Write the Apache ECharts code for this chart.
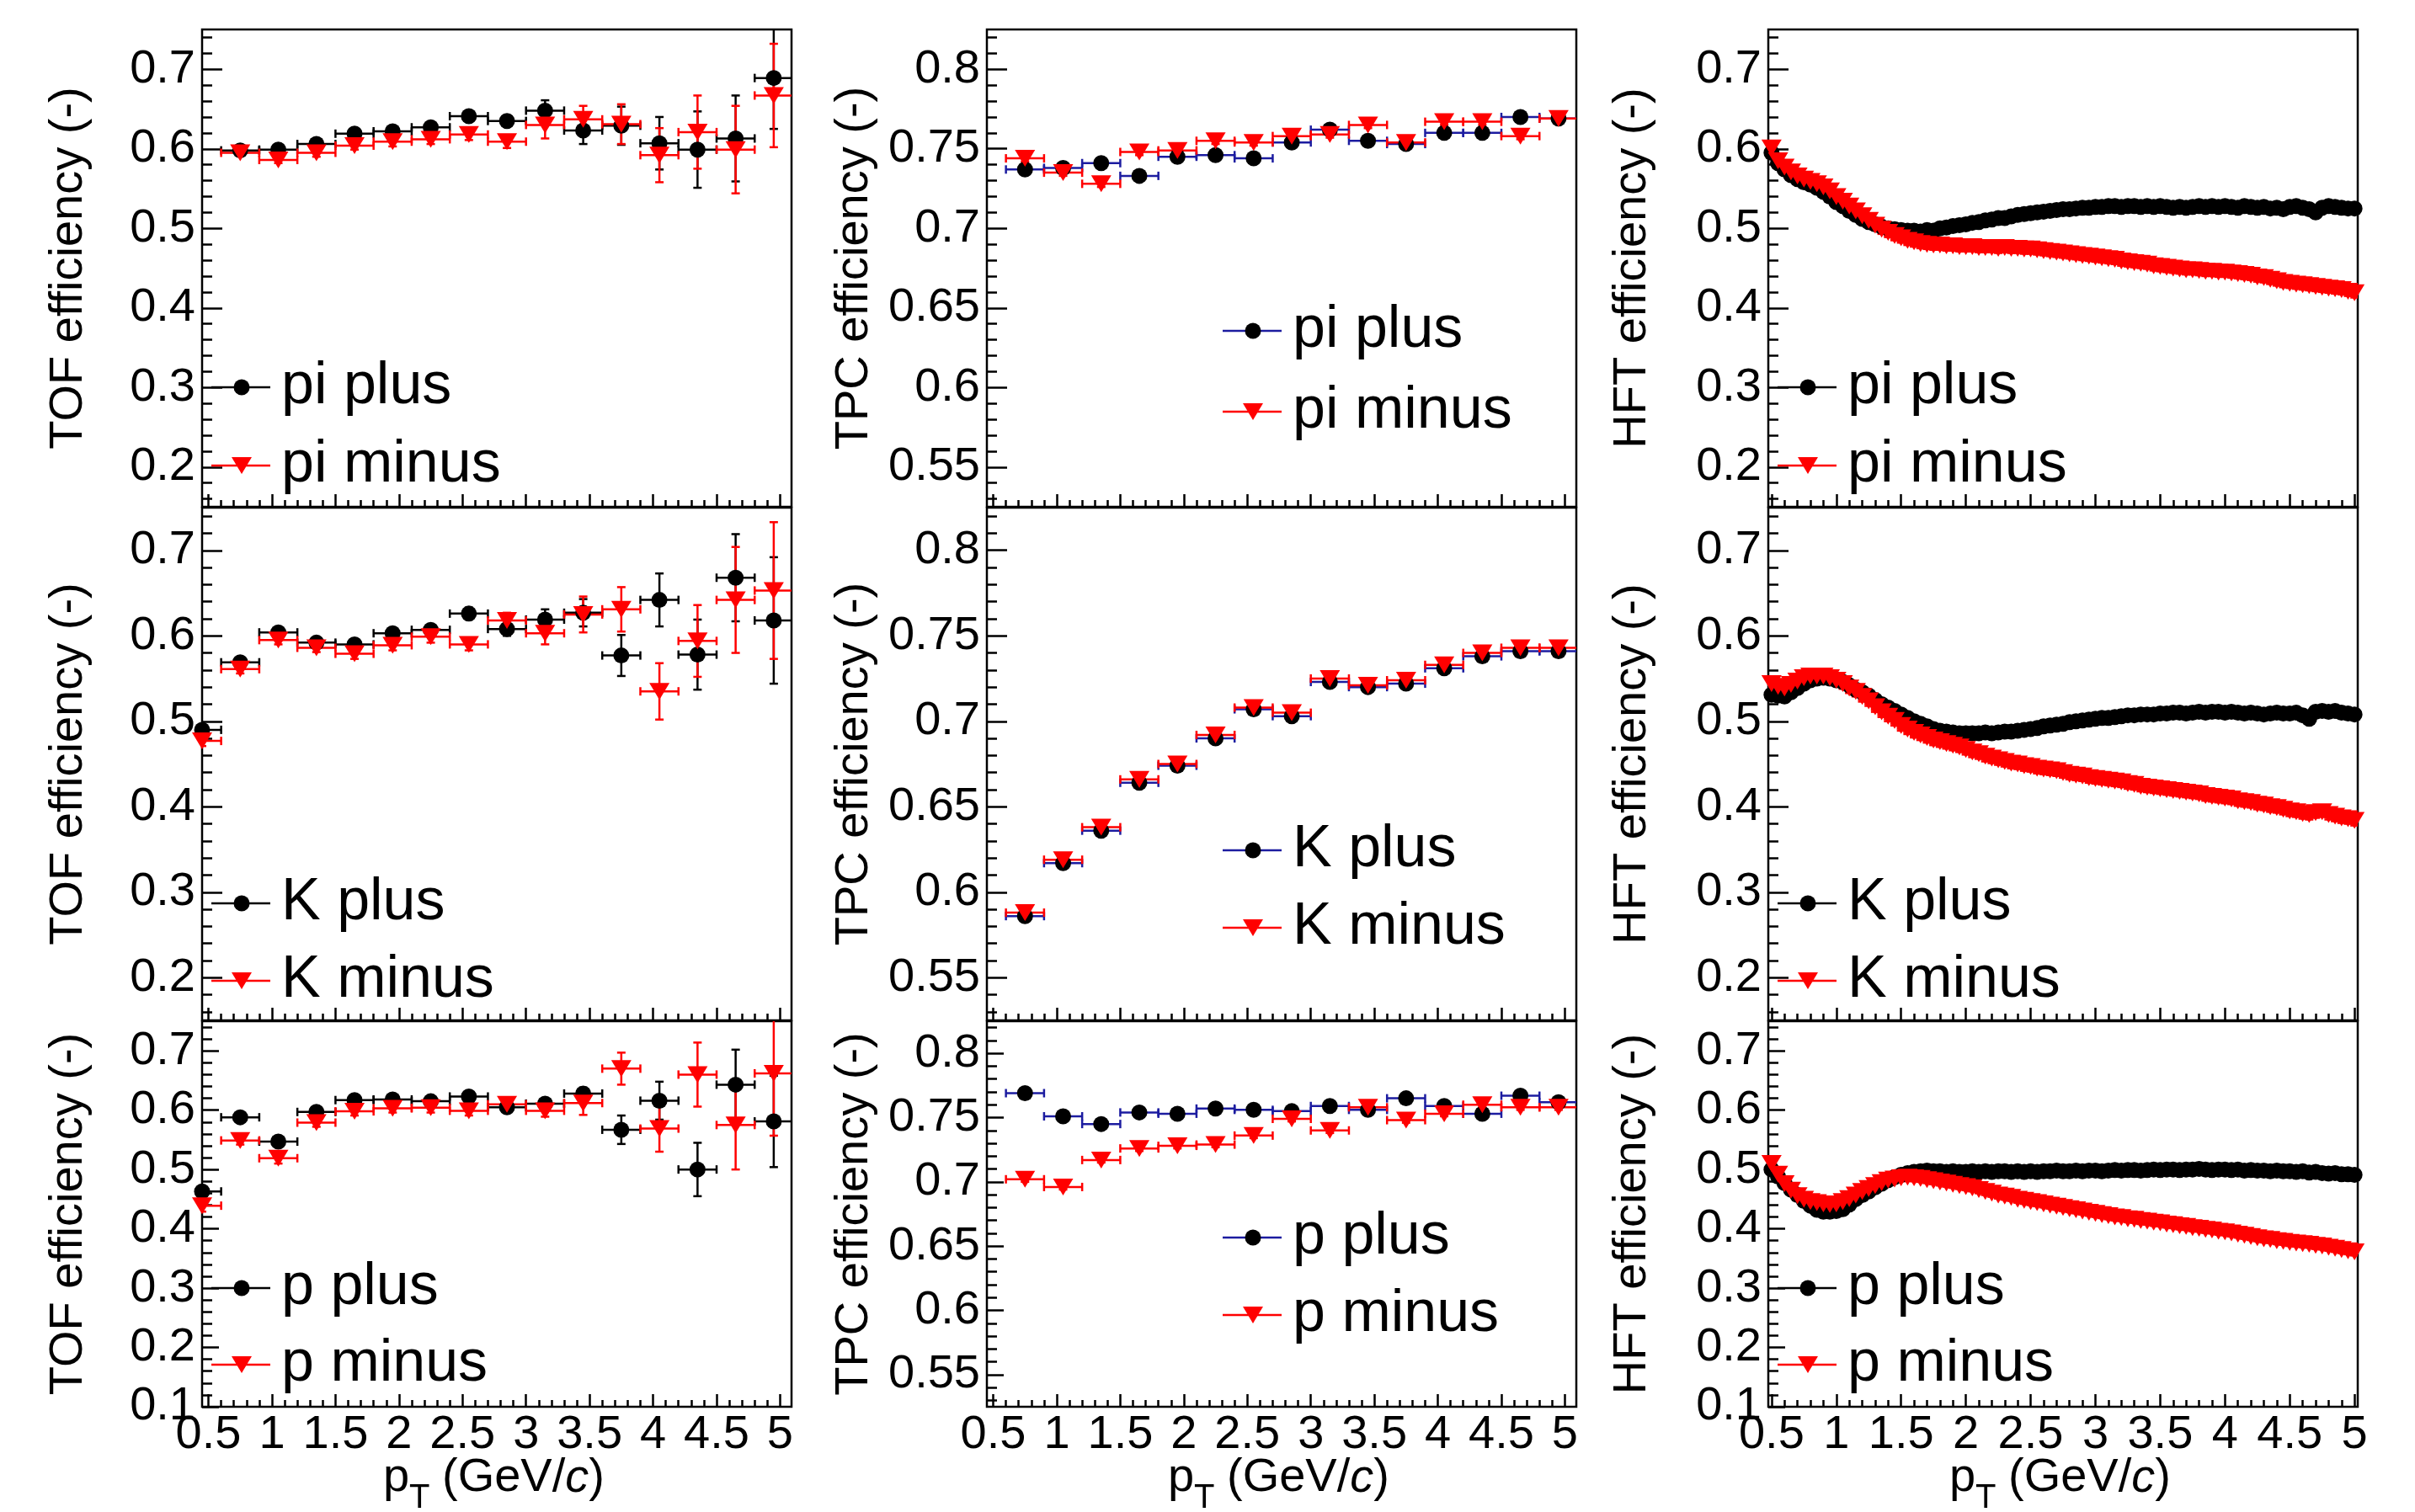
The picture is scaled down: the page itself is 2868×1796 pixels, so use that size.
<!DOCTYPE html>
<html>
<head>
<meta charset="utf-8">
<script src="https://cdn.jsdelivr.net/npm/echarts@6.0.0/dist/echarts.min.js"></script>
<style>
  html, body { margin: 0; padding: 0; background: #fff; }
  #chart { width: 2868px; height: 1796px; }
</style>
</head>
<body>
<div id="chart"></div>
<script>
// bin centres (GeV/c)
const ptTof = [0.75, 1.05, 1.35, 1.65, 1.95, 2.25, 2.55, 2.85, 3.15, 3.45, 3.75, 4.05, 4.35, 4.65, 4.95];
const ptTofLow = [0.45, 0.75, 1.05, 1.35, 1.65, 1.95, 2.25, 2.55, 2.85, 3.15, 3.45, 3.75, 4.05, 4.35, 4.65, 4.95];
const ptTpc = [0.75, 1.05, 1.35, 1.65, 1.95, 2.25, 2.55, 2.85, 3.15, 3.45, 3.75, 4.05, 4.35, 4.65, 4.95];
const ptHft = [0.5, 0.55, 0.6, 0.65, 0.7, 0.75, 0.8, 0.85, 0.9, 0.95,
    1.0, 1.05, 1.1, 1.15, 1.2, 1.25, 1.3, 1.35, 1.4, 1.45,
    1.5, 1.55, 1.6, 1.65, 1.7, 1.75, 1.8, 1.85, 1.9, 1.95,
    2.0, 2.05, 2.1, 2.15, 2.2, 2.25, 2.3, 2.35, 2.4, 2.45,
    2.5, 2.55, 2.6, 2.65, 2.7, 2.75, 2.8, 2.85, 2.9, 2.95,
    3.0, 3.05, 3.1, 3.15, 3.2, 3.25, 3.3, 3.35, 3.4, 3.45,
    3.5, 3.55, 3.6, 3.65, 3.7, 3.75, 3.8, 3.85, 3.9, 3.95,
    4.0, 4.05, 4.1, 4.15, 4.2, 4.25, 4.3, 4.35, 4.4, 4.45,
    4.5, 4.55, 4.6, 4.65, 4.7, 4.75, 4.8, 4.85, 4.9, 4.95, 5.0];

// TOF efficiency
const tofPiPlus = [0.598, 0.599, 0.606, 0.619, 0.622, 0.627, 0.641, 0.635, 0.648, 0.623, 0.629, 0.607, 0.599, 0.613, 0.689];
const tofPiPlusErr = [0.004, 0.004, 0.004, 0.005, 0.005, 0.006, 0.006, 0.007, 0.013, 0.017, 0.024, 0.033, 0.048, 0.054, 0.064];
const tofPiMinus = [0.595, 0.586, 0.595, 0.604, 0.609, 0.612, 0.618, 0.609, 0.630, 0.637, 0.631, 0.592, 0.621, 0.599, 0.667];
const tofPiMinusErr = [0.004, 0.004, 0.005, 0.005, 0.006, 0.006, 0.007, 0.008, 0.017, 0.017, 0.025, 0.034, 0.046, 0.055, 0.065];
const tofKPlus = [0.490, 0.569, 0.604, 0.592, 0.590, 0.603, 0.607, 0.626, 0.608, 0.619, 0.627, 0.577, 0.642, 0.578, 0.668, 0.618];
const tofKPlusErr = [0.005, 0.005, 0.005, 0.005, 0.005, 0.006, 0.006, 0.007, 0.008, 0.012, 0.016, 0.024, 0.031, 0.041, 0.051, 0.074];
const tofKMinus = [0.477, 0.561, 0.595, 0.586, 0.579, 0.589, 0.599, 0.590, 0.618, 0.603, 0.625, 0.631, 0.535, 0.594, 0.642, 0.653];
const tofKMinusErr = [0.006, 0.005, 0.005, 0.005, 0.006, 0.006, 0.007, 0.007, 0.009, 0.013, 0.021, 0.026, 0.033, 0.042, 0.062, 0.080];
const tofPPlus = [0.463, 0.588, 0.547, 0.597, 0.617, 0.618, 0.615, 0.623, 0.605, 0.611, 0.628, 0.567, 0.616, 0.500, 0.643, 0.581];
const tofPPlusErr = [0.008, 0.006, 0.008, 0.006, 0.006, 0.006, 0.006, 0.007, 0.007, 0.008, 0.010, 0.024, 0.032, 0.045, 0.059, 0.077];
const tofPMinus = [0.439, 0.549, 0.519, 0.579, 0.598, 0.603, 0.604, 0.599, 0.610, 0.599, 0.612, 0.670, 0.569, 0.660, 0.575, 0.662];
const tofPMinusErr = [0.010, 0.007, 0.009, 0.007, 0.007, 0.007, 0.008, 0.008, 0.009, 0.010, 0.020, 0.027, 0.039, 0.054, 0.075, 0.105];

// TPC efficiency
const tpcPiPlus = [0.737, 0.738, 0.741, 0.733, 0.745, 0.746, 0.744, 0.754, 0.762, 0.755, 0.753, 0.760, 0.760, 0.770, 0.769];
const tpcPiMinus = [0.744, 0.735, 0.728, 0.748, 0.749, 0.755, 0.754, 0.758, 0.759, 0.765, 0.754, 0.767, 0.767, 0.758, 0.769];
const tpcKPlus = [0.586, 0.617, 0.636, 0.664, 0.674, 0.690, 0.707, 0.703, 0.723, 0.720, 0.722, 0.731, 0.738, 0.741, 0.741];
const tpcKMinus = [0.588, 0.619, 0.638, 0.666, 0.675, 0.692, 0.708, 0.705, 0.725, 0.721, 0.724, 0.733, 0.740, 0.743, 0.743];
const tpcPPlus = [0.769, 0.751, 0.745, 0.754, 0.753, 0.757, 0.756, 0.755, 0.759, 0.756, 0.765, 0.759, 0.753, 0.767, 0.762];
const tpcPMinus = [0.702, 0.696, 0.717, 0.726, 0.728, 0.729, 0.736, 0.749, 0.740, 0.758, 0.748, 0.753, 0.760, 0.758, 0.758];

// HFT efficiency
const hftPiPlus = [0.595, 0.582, 0.574, 0.567, 0.562, 0.558, 0.555, 0.551, 0.546, 0.540,
    0.533, 0.528, 0.522, 0.517, 0.512, 0.508, 0.505, 0.502, 0.500, 0.499,
    0.498, 0.497, 0.497, 0.496, 0.498, 0.497, 0.500, 0.501, 0.503, 0.504,
    0.505, 0.507, 0.508, 0.510, 0.511, 0.513, 0.513, 0.515, 0.517, 0.518,
    0.519, 0.520, 0.521, 0.522, 0.523, 0.524, 0.524, 0.525, 0.526, 0.526,
    0.527, 0.527, 0.528, 0.528, 0.527, 0.528, 0.528, 0.527, 0.528, 0.527,
    0.528, 0.527, 0.526, 0.527, 0.526, 0.527, 0.528, 0.527, 0.528, 0.527,
    0.528, 0.527, 0.526, 0.528, 0.527, 0.526, 0.527, 0.525, 0.526, 0.524,
    0.527, 0.528, 0.526, 0.524, 0.520, 0.526, 0.528, 0.527, 0.526, 0.525, 0.525];
const hftPiMinus = [0.601, 0.585, 0.577, 0.571, 0.566, 0.562, 0.559, 0.556, 0.552, 0.547,
    0.540, 0.534, 0.528, 0.522, 0.516, 0.510, 0.504, 0.499, 0.495, 0.491,
    0.488, 0.485, 0.483, 0.481, 0.480, 0.479, 0.479, 0.478, 0.478, 0.477,
    0.477, 0.477, 0.476, 0.476, 0.476, 0.475, 0.476, 0.475, 0.475, 0.474,
    0.474, 0.473, 0.472, 0.471, 0.470, 0.469, 0.468, 0.467, 0.466, 0.465,
    0.464, 0.463, 0.462, 0.461, 0.459, 0.458, 0.457, 0.456, 0.455, 0.453,
    0.452, 0.451, 0.450, 0.449, 0.448, 0.448, 0.447, 0.446, 0.446, 0.445,
    0.445, 0.444, 0.443, 0.442, 0.441, 0.439, 0.438, 0.436, 0.434, 0.432,
    0.431, 0.430, 0.429, 0.428, 0.427, 0.426, 0.425, 0.424, 0.423, 0.421, 0.419];
const hftKPlus = [0.531, 0.530, 0.529, 0.534, 0.539, 0.544, 0.548, 0.550, 0.551, 0.550,
    0.548, 0.546, 0.542, 0.537, 0.534, 0.530, 0.525, 0.520, 0.516, 0.512,
    0.508, 0.504, 0.500, 0.497, 0.494, 0.491, 0.489, 0.488, 0.487, 0.486,
    0.486, 0.486, 0.486, 0.487, 0.486, 0.487, 0.488, 0.488, 0.489, 0.490,
    0.491, 0.492, 0.494, 0.495, 0.496, 0.497, 0.499, 0.500, 0.501, 0.502,
    0.503, 0.504, 0.504, 0.505, 0.506, 0.507, 0.507, 0.508, 0.508, 0.508,
    0.509, 0.509, 0.510, 0.510, 0.509, 0.510, 0.511, 0.510, 0.511, 0.511,
    0.510, 0.511, 0.510, 0.509, 0.510, 0.509, 0.508, 0.509, 0.510, 0.509,
    0.509, 0.510, 0.507, 0.503, 0.511, 0.512, 0.511, 0.512, 0.510, 0.509, 0.508];
const hftKMinus = [0.544, 0.541, 0.539, 0.543, 0.547, 0.551, 0.553, 0.553, 0.553, 0.551,
    0.548, 0.544, 0.539, 0.535, 0.529, 0.524, 0.517, 0.511, 0.506, 0.501,
    0.495, 0.491, 0.487, 0.484, 0.481, 0.478, 0.476, 0.474, 0.472, 0.470,
    0.467, 0.464, 0.462, 0.459, 0.457, 0.455, 0.453, 0.451, 0.450, 0.448,
    0.447, 0.445, 0.444, 0.443, 0.442, 0.440, 0.438, 0.437, 0.436, 0.434,
    0.433, 0.432, 0.431, 0.430, 0.429, 0.427, 0.426, 0.424, 0.423, 0.422,
    0.421, 0.420, 0.419, 0.418, 0.417, 0.416, 0.415, 0.413, 0.412, 0.411,
    0.410, 0.409, 0.407, 0.406, 0.405, 0.403, 0.402, 0.400, 0.399, 0.397,
    0.395, 0.394, 0.392, 0.391, 0.393, 0.394, 0.391, 0.389, 0.387, 0.386, 0.384];
const hftPPlus = [0.500, 0.488, 0.477, 0.466, 0.457, 0.447, 0.439, 0.432, 0.429, 0.429,
    0.430, 0.433, 0.441, 0.450, 0.457, 0.463, 0.470, 0.476, 0.482, 0.487,
    0.491, 0.494, 0.496, 0.497, 0.498, 0.497, 0.497, 0.496, 0.497, 0.496,
    0.496, 0.497, 0.496, 0.497, 0.496, 0.497, 0.497, 0.496, 0.497, 0.496,
    0.497, 0.496, 0.497, 0.497, 0.498, 0.497, 0.497, 0.498, 0.497, 0.498,
    0.498, 0.497, 0.498, 0.499, 0.498, 0.499, 0.499, 0.498, 0.499, 0.500,
    0.499, 0.500, 0.500, 0.499, 0.500, 0.500, 0.501, 0.500, 0.499, 0.500,
    0.500, 0.499, 0.500, 0.498, 0.499, 0.498, 0.498, 0.497, 0.498, 0.497,
    0.497, 0.496, 0.497, 0.495, 0.496, 0.494, 0.493, 0.494, 0.492, 0.492, 0.491];
const hftPMinus = [0.510, 0.492, 0.476, 0.465, 0.456, 0.450, 0.446, 0.444, 0.442, 0.441,
    0.442, 0.446, 0.451, 0.457, 0.463, 0.468, 0.473, 0.478, 0.482, 0.484,
    0.486, 0.487, 0.486, 0.485, 0.483, 0.481, 0.479, 0.477, 0.475, 0.473,
    0.471, 0.469, 0.466, 0.463, 0.460, 0.457, 0.455, 0.453, 0.450, 0.448,
    0.446, 0.444, 0.442, 0.440, 0.438, 0.436, 0.434, 0.432, 0.430, 0.428,
    0.426, 0.424, 0.422, 0.420, 0.419, 0.417, 0.416, 0.414, 0.413, 0.411,
    0.410, 0.408, 0.407, 0.405, 0.404, 0.402, 0.401, 0.399, 0.398, 0.396,
    0.395, 0.393, 0.391, 0.389, 0.387, 0.385, 0.383, 0.382, 0.380, 0.379,
    0.377, 0.376, 0.375, 0.374, 0.372, 0.371, 0.369, 0.367, 0.365, 0.363, 0.361];

// tick values
const xMajor = [0.5, 1, 1.5, 2, 2.5, 3, 3.5, 4, 4.5, 5];
const xMinor = [0.6, 0.7, 0.8, 0.9, 1.1, 1.2, 1.3, 1.4, 1.6, 1.7, 1.8, 1.9, 2.1, 2.2, 2.3, 2.4,
    2.6, 2.7, 2.8, 2.9, 3.1, 3.2, 3.3, 3.4, 3.6, 3.7, 3.8, 3.9, 4.1, 4.2, 4.3, 4.4, 4.6, 4.7, 4.8, 4.9];
const effMajor = [0.2, 0.3, 0.4, 0.5, 0.6, 0.7];
const effMajorLow = [0.1, 0.2, 0.3, 0.4, 0.5, 0.6, 0.7];
const effMinor = [0.12, 0.14, 0.16, 0.18, 0.22, 0.24, 0.26, 0.28, 0.32, 0.34, 0.36, 0.38, 0.42, 0.44, 0.46, 0.48,
    0.52, 0.54, 0.56, 0.58, 0.62, 0.64, 0.66, 0.68, 0.72, 0.74];
const tpcMajor = [0.55, 0.6, 0.65, 0.7, 0.75, 0.8];
const tpcMinor = [0.53, 0.54, 0.56, 0.57, 0.58, 0.59, 0.61, 0.62, 0.63, 0.64, 0.66, 0.67, 0.68, 0.69,
    0.71, 0.72, 0.73, 0.74, 0.76, 0.77, 0.78, 0.79, 0.81, 0.82];

const FONT = '"Liberation Sans", Arial, Helvetica, sans-serif';
const BLUE = '#1c1ca0';
const RED = '#ff0000';

// pad geometry
const colLeft = [240, 1172, 2100];
const colWidth = 700;
const rowBox = [{ top: 35, h: 567 }, { top: 603, h: 609 }, { top: 1213, h: 458 }];
const yTitleX = [82, 1015, 1939];
const legendY = [[460, 553], [1073, 1165], [1530, 1621]];
const legendYTpc = [[393, 489], [1010, 1102], [1470, 1562]];

const panels = [
    { row: 0, col: 0, det: 'TOF', sp: 'pi', x: ptTof, plus: tofPiPlus, plusErr: tofPiPlusErr, minus: tofPiMinus, minusErr: tofPiMinusErr, dx: 0.15 },
    { row: 0, col: 1, det: 'TPC', sp: 'pi', x: ptTpc, plus: tpcPiPlus, minus: tpcPiMinus, dx: 0.15, dy: 0.002 },
    { row: 0, col: 2, det: 'HFT', sp: 'pi', x: ptHft, plus: hftPiPlus, minus: hftPiMinus, dx: 0.025, dy: 0.006 },
    { row: 1, col: 0, det: 'TOF', sp: 'K', x: ptTofLow, plus: tofKPlus, plusErr: tofKPlusErr, minus: tofKMinus, minusErr: tofKMinusErr, dx: 0.15 },
    { row: 1, col: 1, det: 'TPC', sp: 'K', x: ptTpc, plus: tpcKPlus, minus: tpcKMinus, dx: 0.15, dy: 0.002 },
    { row: 1, col: 2, det: 'HFT', sp: 'K', x: ptHft, plus: hftKPlus, minus: hftKMinus, dx: 0.025, dy: 0.006 },
    { row: 2, col: 0, det: 'TOF', sp: 'p', x: ptTofLow, plus: tofPPlus, plusErr: tofPPlusErr, minus: tofPMinus, minusErr: tofPMinusErr, dx: 0.15 },
    { row: 2, col: 1, det: 'TPC', sp: 'p', x: ptTpc, plus: tpcPPlus, minus: tpcPMinus, dx: 0.15, dy: 0.002 },
    { row: 2, col: 2, det: 'HFT', sp: 'p', x: ptHft, plus: hftPPlus, minus: hftPMinus, dx: 0.025, dy: 0.006 }
];

// error bars with small end lines, like ROOT's "E1"
function errorBars(color) {
    return function (params, api) {
        const x = api.value(0), y = api.value(1), ex = api.value(2), ey = api.value(3);
        const l = api.coord([x - ex, y]);
        const r = api.coord([x + ex, y]);
        const t = api.coord([x, y + ey]);
        const b = api.coord([x, y - ey]);
        const cap = 5;
        const st = { stroke: color, lineWidth: 2.5 };
        const seg = (x1, y1, x2, y2) => ({ type: 'line', shape: { x1, y1, x2, y2 }, style: st });
        return {
            type: 'group',
            children: [
                seg(l[0], l[1], r[0], r[1]),
                seg(l[0], l[1] - cap, l[0], l[1] + cap),
                seg(r[0], r[1] - cap, r[0], r[1] + cap),
                seg(t[0], t[1], b[0], b[1]),
                seg(t[0] - cap, t[1], t[0] + cap, t[1]),
                seg(b[0] - cap, b[1], b[0] + cap, b[1])
            ]
        };
    };
}

const grids = [], xAxes = [], yAxes = [], series = [], graphics = [];

panels.forEach((p, i) => {
    const box = rowBox[p.row];
    const isTpc = p.det === 'TPC';
    const xMin = p.col === 2 ? 0.475 : 0.45;
    const xMax = p.col === 2 ? 5.025 : 5.09;
    const yMin = isTpc ? 0.525 : (p.row === 2 ? 0.1 : 0.15);
    const yMax = isTpc ? 0.825 : 0.75;
    const yLabels = isTpc ? tpcMajor : (p.row === 2 ? effMajorLow : effMajor);
    const yMinorVals = isTpc ? tpcMinor : effMinor;
    const yTickLen = p.row === 2 ? 20 : 24;

    grids.push({
        left: colLeft[p.col], top: box.top, width: colWidth, height: box.h,
        show: true, borderColor: '#000', borderWidth: 2.5, backgroundColor: 'transparent',
        containLabel: false, outerBoundsMode: 'none'
    });

    const tickStyle = { color: '#000', width: 2.5 };
    // main x axis
    xAxes.push({
        gridIndex: i, type: 'value', position: 'bottom', min: xMin, max: xMax,
        axisLine: { show: false, onZero: false }, splitLine: { show: false },
        axisTick: { show: true, inside: true, length: 15, customValues: xMajor, lineStyle: tickStyle },
        axisLabel: {
            show: p.row === 2, customValues: xMajor, margin: 6,
            fontSize: 56, fontFamily: FONT, color: '#000'
        }
    });
    // minor x ticks
    xAxes.push({
        gridIndex: i, type: 'value', position: 'bottom', min: xMin, max: xMax,
        axisLine: { show: false, onZero: false }, splitLine: { show: false },
        axisTick: { show: true, inside: true, length: 8, customValues: xMinor, lineStyle: tickStyle },
        axisLabel: { show: false }
    });
    // main y axis
    yAxes.push({
        gridIndex: i, type: 'value', position: 'left', min: yMin, max: yMax,
        axisLine: { show: false, onZero: false }, splitLine: { show: false },
        axisTick: { show: true, inside: true, length: yTickLen, customValues: yLabels, lineStyle: tickStyle },
        axisLabel: {
            show: true, customValues: yLabels, margin: 8,
            fontSize: 56, fontFamily: FONT, color: '#000'
        }
    });
    // minor y ticks
    yAxes.push({
        gridIndex: i, type: 'value', position: 'left', min: yMin, max: yMax,
        axisLine: { show: false, onZero: false }, splitLine: { show: false },
        axisTick: { show: true, inside: true, length: 12, customValues: yMinorVals, lineStyle: tickStyle },
        axisLabel: { show: false }
    });

    const plusData = p.x.map((x, k) => [x, p.plus[k], p.dx, p.plusErr ? p.plusErr[k] : p.dy]);
    const minusData = p.x.map((x, k) => [x, p.minus[k], p.dx, p.minusErr ? p.minusErr[k] : p.dy]);
    const plusLine = isTpc ? BLUE : '#000';

    series.push({
        type: 'custom', xAxisIndex: 2 * i, yAxisIndex: 2 * i, clip: true,
        renderItem: errorBars(plusLine), encode: { x: 0, y: 1 }, data: plusData
    });
    series.push({
        type: 'scatter', xAxisIndex: 2 * i, yAxisIndex: 2 * i, clip: true,
        symbol: 'circle', symbolSize: 19, itemStyle: { color: '#000', opacity: 1 },
        data: plusData.map(d => [d[0], d[1]])
    });
    series.push({
        type: 'custom', xAxisIndex: 2 * i, yAxisIndex: 2 * i, clip: true,
        renderItem: errorBars(RED), encode: { x: 0, y: 1 }, data: minusData
    });
    series.push({
        type: 'scatter', xAxisIndex: 2 * i, yAxisIndex: 2 * i, clip: true,
        symbol: 'triangle', symbolRotate: 180, symbolSize: [24, 20], itemStyle: { color: RED, opacity: 1 },
        data: minusData.map(d => [d[0], d[1]])
    });

    // legend, drawn the ROOT way: line + marker + text
    const ly = isTpc ? legendYTpc[p.row] : legendY[p.row];
    const lx0 = colLeft[p.col] + (isTpc ? 280 : 11);
    const entries = [
        { text: p.sp + ' plus', line: plusLine, y: ly[0], plus: true },
        { text: p.sp + ' minus', line: RED, y: ly[1], plus: false }
    ];
    entries.forEach(e => {
        const mx = lx0 + 36;
        graphics.push({
            type: 'line', shape: { x1: lx0, y1: e.y, x2: lx0 + 70, y2: e.y },
            style: { stroke: e.line, lineWidth: 2.5 }, z: 10
        });
        if (e.plus) {
            graphics.push({ type: 'circle', shape: { cx: mx, cy: e.y, r: 9.5 }, style: { fill: '#000' }, z: 11 });
        } else {
            graphics.push({
                type: 'polygon', shape: { points: [[mx - 12, e.y - 10], [mx + 12, e.y - 10], [mx, e.y + 10]] },
                style: { fill: RED }, z: 11
            });
        }
        graphics.push({
            type: 'text', x: lx0 + 83, y: e.y, z: 11,
            style: {
                text: e.text, font: '70px ' + FONT, fill: '#000',
                textAlign: 'left', textVerticalAlign: 'middle', align: 'left', verticalAlign: 'middle'
            }
        });
    });

    // y axis title
    graphics.push({
        type: 'text', x: yTitleX[p.col], y: box.top + box.h / 2, rotation: Math.PI / 2, z: 11,
        style: {
            text: p.det + ' efficiency (-)', font: '56px ' + FONT, fill: '#000',
            textAlign: 'center', textVerticalAlign: 'middle', align: 'center', verticalAlign: 'middle'
        }
    });
});

// x axis titles: p_T (GeV/c)
colLeft.forEach(cl => {
    const x0 = cl + 347 - 132;
    graphics.push({
        type: 'text', x: x0, y: 1756, z: 11,
        style: { text: 'p', font: '56px ' + FONT, fill: '#000', textAlign: 'left', textVerticalAlign: 'middle', align: 'left', verticalAlign: 'middle' }
    });
    graphics.push({
        type: 'text', x: x0 + 31, y: 1780, z: 11,
        style: { text: 'T', font: '40px ' + FONT, fill: '#000', textAlign: 'left', textVerticalAlign: 'middle', align: 'left', verticalAlign: 'middle' }
    });
    graphics.push({
        type: 'text', x: x0 + 70, y: 1756, z: 11,
        style: {
            text: '(GeV/{i|c})', font: '56px ' + FONT, fill: '#000',
            textAlign: 'left', textVerticalAlign: 'middle', align: 'left', verticalAlign: 'middle',
            rich: { i: { fontStyle: 'italic', fontSize: 56, fontFamily: FONT, fill: '#000' } }
        }
    });
});

let myChart = echarts.init(document.getElementById('chart'), null, { renderer: 'canvas' });
myChart.setOption({
    animation: false,
    backgroundColor: '#fff',
    grid: grids,
    xAxis: xAxes,
    yAxis: yAxes,
    series: series,
    graphic: graphics
});
</script>
</body>
</html>
